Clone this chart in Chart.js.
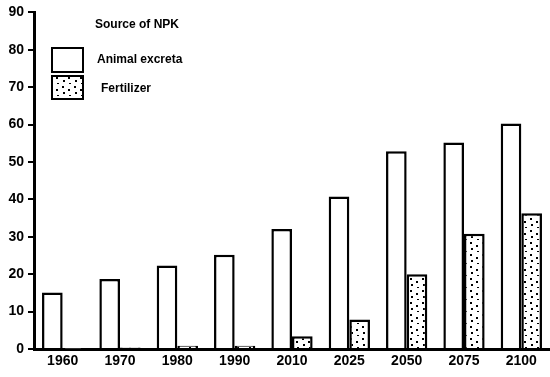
<!DOCTYPE html>
<html>
<head>
<meta charset="utf-8">
<script src="https://cdn.jsdelivr.net/npm/chart.js@4/dist/chart.umd.min.js"></script>
<style>
  html, body { margin: 0; padding: 0; background: #fff; }
  #wrap { width: 550px; height: 377px; position: relative; }
</style>
</head>
<body>
<div id="wrap"><canvas id="c"></canvas></div>
<script>
const YEARS = ['1960', '1970', '1980', '1990', '2010', '2025', '2050', '2075', '2100'];
const ANIMAL_EXCRETA = [15.1, 18.7, 22.3, 25.2, 32.1, 40.8, 52.9, 55.2, 60.3];
const FERTILIZER = [0.1, 0.4, 0.9, 0.9, 3.4, 7.9, 20.0, 30.8, 36.3];
const LEGEND_TITLE = 'Source of NPK';
const SERIES_NAMES = ['Animal excreta', 'Fertilizer'];

const FONT = "'Liberation Sans Narrow', 'Liberation Sans', sans-serif";

// sparse stipple fill used for the fertilizer bars
function dotPattern() {
    const p = document.createElement('canvas');
    p.width = 12; p.height = 12;
    const g = p.getContext('2d');
    g.fillStyle = '#fff';
    g.fillRect(0, 0, 12, 12);
    g.fillStyle = '#000';
    [[2, 2], [8, 5], [3, 8], [9, 11]].forEach(([x, y]) => g.fillRect(x, y, 2, 2));
    return g.createPattern(p, 'repeat');
}
const dots = dotPattern();

const legendBox = {
    id: 'legendBox',
    afterDraw(chart) {
        const c = chart.ctx;
        c.save();
        c.fillStyle = '#000';
        c.textBaseline = 'middle';
        c.font = `bold 12px ${FONT}`;
        c.fillText(LEGEND_TITLE, 95, 25);
        c.lineWidth = 2;
        c.strokeStyle = '#000';
        c.fillStyle = '#fff';
        c.fillRect(52, 48, 31, 24);
        c.strokeRect(52, 48, 31, 24);
        c.fillStyle = dots;
        c.fillRect(52, 76, 31, 23);
        c.strokeRect(52, 76, 31, 23);
        c.fillStyle = '#000';
        c.fillText(SERIES_NAMES[0], 97, 60);
        c.fillText(SERIES_NAMES[1], 101, 89);
        c.restore();
    }
};

new Chart(document.getElementById('c'), {
    type: 'bar',
    data: {
        labels: YEARS,
        datasets: [
            {
                label: SERIES_NAMES[0],
                data: ANIMAL_EXCRETA,
                backgroundColor: '#fff',
                borderColor: '#000',
                borderWidth: 2.5,
                categoryPercentage: 0.72,
                barPercentage: 1.0,
            },
            {
                label: SERIES_NAMES[1],
                data: FERTILIZER,
                backgroundColor: dots,
                borderColor: '#000',
                borderWidth: 2.5,
                categoryPercentage: 0.72,
                barPercentage: 1.0,
            }
        ]
    },
    options: {
        responsive: true,
        maintainAspectRatio: false,
        animation: false,
        layout: { padding: { top: 10, right: 0, left: 0, bottom: 0 } },
        plugins: {
            legend: { display: false },
            tooltip: { enabled: false }
        },
        scales: {
            x: {
                grid: { display: false, drawTicks: false },
                border: { display: true, color: '#000', width: 3 },
                ticks: {
                    color: '#000',
                    font: { family: FONT, size: 14, weight: 'bold' },
                    padding: 4,
                    maxRotation: 0,
                },
                afterFit(scale) { scale.height = 28; }
            },
            y: {
                min: 0,
                max: 90,
                grid: { drawOnChartArea: false, drawTicks: true, tickLength: 6, color: '#000', lineWidth: 2 },
                border: { display: true, color: '#000', width: 3 },
                ticks: {
                    stepSize: 10,
                    color: '#000',
                    font: { family: FONT, size: 14, weight: 'bold' },
                    padding: 4,
                },
                afterFit(scale) { scale.width = 34; }
            }
        }
    },
    plugins: [legendBox]
});
</script>
</body>
</html>
